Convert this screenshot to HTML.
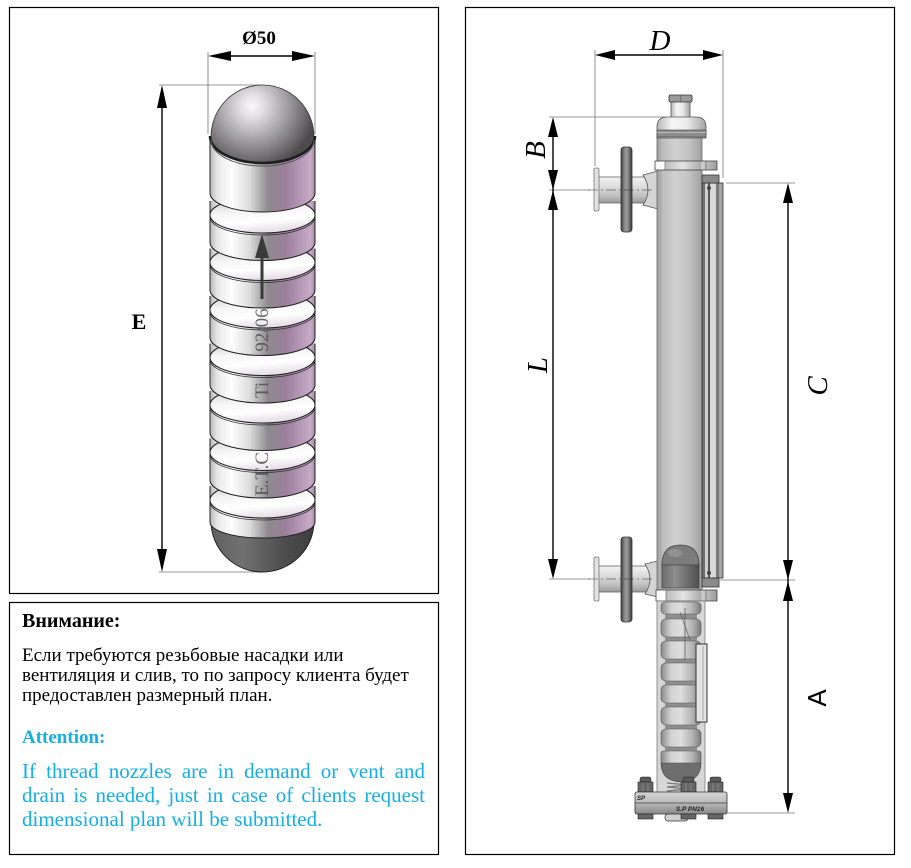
<!DOCTYPE html>
<html><head><meta charset="utf-8">
<style>
html,body{margin:0;padding:0;background:#fff;}
body{width:911px;height:868px;position:relative;overflow:hidden;font-family:"Liberation Serif","Noto Serif CJK SC",serif;}
svg{position:absolute;left:0;top:0;}
.t{position:absolute;white-space:nowrap;color:#000;}
.bl{color:#14aee8;}
</style></head><body>
<svg width="911" height="868" viewBox="0 0 911 868" xmlns="http://www.w3.org/2000/svg">
<defs>
<linearGradient id="fb" gradientUnits="userSpaceOnUse" x1="210" y1="0" x2="315" y2="0">
 <stop offset="0" stop-color="#b8b8b8"/><stop offset="0.07" stop-color="#e6e6e6"/><stop offset="0.2" stop-color="#ffffff"/>
 <stop offset="0.38" stop-color="#dcdcdc"/><stop offset="0.55" stop-color="#8e8a8e"/><stop offset="0.72" stop-color="#9b7f9c"/>
 <stop offset="0.88" stop-color="#b99bba"/><stop offset="0.96" stop-color="#c6abc6"/><stop offset="1" stop-color="#9d8a9d"/>
</linearGradient>
<linearGradient id="ff" x1="0" y1="0" x2="0.25" y2="1">
 <stop offset="0" stop-color="#c9c6c9"/><stop offset="0.45" stop-color="#f4f4f4"/><stop offset="0.75" stop-color="#ffffff"/>
 <stop offset="1" stop-color="#e9e2e9"/>
</linearGradient>
<radialGradient id="fd" gradientUnits="userSpaceOnUse" cx="252" cy="106" r="64">
 <stop offset="0" stop-color="#fafafa"/><stop offset="0.18" stop-color="#e2e0e2"/><stop offset="0.55" stop-color="#a19ea1"/>
 <stop offset="0.85" stop-color="#6b676b"/><stop offset="1" stop-color="#4d494d"/>
</radialGradient>
<linearGradient id="fbot" gradientUnits="userSpaceOnUse" x1="211" y1="0" x2="314" y2="0">
 <stop offset="0" stop-color="#606060"/><stop offset="0.3" stop-color="#717171"/><stop offset="0.7" stop-color="#4e4e4e"/><stop offset="1" stop-color="#3e3e3e"/>
</linearGradient>
<linearGradient id="tube" x1="0" y1="0" x2="1" y2="0">
 <stop offset="0" stop-color="#9c9c9c"/><stop offset="0.12" stop-color="#bcbcbc"/><stop offset="0.4" stop-color="#d0d0d0"/>
 <stop offset="0.7" stop-color="#c4c4c4"/><stop offset="1" stop-color="#a0a0a0"/>
</linearGradient>
<linearGradient id="pipe" x1="0" y1="0" x2="0" y2="1">
 <stop offset="0" stop-color="#f2f2f2"/><stop offset="0.35" stop-color="#dedede"/><stop offset="0.75" stop-color="#bdbdbd"/><stop offset="1" stop-color="#999"/>
</linearGradient>
<linearGradient id="disc" x1="0" y1="0" x2="1" y2="0">
 <stop offset="0" stop-color="#3e3e3e"/><stop offset="0.35" stop-color="#8e8e8e"/><stop offset="0.55" stop-color="#9a9a9a"/><stop offset="1" stop-color="#3a3a3a"/>
</linearGradient>
<linearGradient id="cap" x1="0" y1="0" x2="1" y2="0">
 <stop offset="0" stop-color="#b5b5b5"/><stop offset="0.3" stop-color="#f5f5f5"/><stop offset="0.6" stop-color="#ececec"/><stop offset="1" stop-color="#a5a5a5"/>
</linearGradient>
<linearGradient id="collar" x1="0" y1="0" x2="1" y2="0">
 <stop offset="0" stop-color="#f8f8f8"/><stop offset="0.16" stop-color="#ffffff"/><stop offset="0.17" stop-color="#bdbdbd"/>
 <stop offset="0.45" stop-color="#e4e4e4"/><stop offset="0.74" stop-color="#ababab"/><stop offset="0.75" stop-color="#cfcfcf"/><stop offset="1" stop-color="#9a9a9a"/>
</linearGradient>
<linearGradient id="rib" x1="0" y1="0" x2="1" y2="0">
 <stop offset="0" stop-color="#8a8a8a"/><stop offset="0.25" stop-color="#d2d2d2"/><stop offset="0.5" stop-color="#dedede"/>
 <stop offset="0.8" stop-color="#b0b0b0"/><stop offset="1" stop-color="#7a7a7a"/>
</linearGradient>
<linearGradient id="dkd" x1="0" y1="0" x2="1" y2="0">
 <stop offset="0" stop-color="#6c6c6c"/><stop offset="0.35" stop-color="#8e8e8e"/><stop offset="1" stop-color="#4f4f4f"/>
</linearGradient>
<linearGradient id="flg" x1="0" y1="0" x2="0" y2="1">
 <stop offset="0" stop-color="#d5d5d5"/><stop offset="0.45" stop-color="#bdbdbd"/><stop offset="1" stop-color="#8a8a8a"/>
</linearGradient>
</defs>

<!-- Frames -->
<rect x="9.5" y="7.5" width="429" height="586" fill="none" stroke="#000" stroke-width="1.2"/>
<rect x="9.5" y="602.5" width="429" height="252" fill="none" stroke="#000" stroke-width="1.2"/>
<rect x="465.5" y="7.5" width="429" height="847" fill="none" stroke="#000" stroke-width="1.2"/>

<!-- ===== LEFT: float ===== -->
<g stroke="#777" stroke-width="0.8" fill="none">
 <line x1="208" y1="52" x2="208" y2="134"/>
 <line x1="315" y1="52" x2="315" y2="134"/>
 <line x1="159" y1="85" x2="262" y2="85"/>
 <line x1="159" y1="572" x2="262" y2="572"/>
</g>
<g stroke="#000" stroke-width="1.4">
 <line x1="220" y1="56" x2="303" y2="56"/>
 <line x1="162" y1="100" x2="162" y2="557"/>
</g>
<g fill="#000">
 <polygon points="208,56 231,51 231,61"/>
 <polygon points="315,56 292,51 292,61"/>
 <polygon points="162,85 157,108 167,108"/>
 <polygon points="162,572 157,549 167,549"/>
</g>
<text x="259" y="44" text-anchor="middle" font-family="Liberation Serif, serif" font-weight="bold" font-size="19">Ø50</text>
<text x="139" y="329" text-anchor="middle" font-family="Liberation Serif, serif" font-weight="bold" font-size="22">E</text>

<!-- bottom dome -->
<path d="M211,521 A51.5,51 0 0 0 314,521 Z" fill="url(#fbot)" stroke="#222"/>

<!-- rib 6 -->
<path d="M210,486 L210,522 A52.5,16 0 0 0 315,522 L315,486 Z" fill="url(#fb)"/>
<path d="M210,486 L210,522 A52.5,16 0 0 0 315,522 L315,486" fill="none" stroke="#222"/>
<ellipse cx="262.5" cy="500" rx="52.5" ry="18" fill="url(#ff)" stroke="#222"/>
<path d="M210,502 A52.5,18 0 0 0 315,502" fill="none" stroke="#333" stroke-width="0.8"/>

<!-- rib 5 -->
<path d="M210,438.5 L210,480 A52.5,18 0 0 0 315,480 L315,438.5 Z" fill="url(#fb)"/>
<path d="M210,438.5 L210,480 A52.5,18 0 0 0 315,480 L315,438.5" fill="none" stroke="#222"/>
<ellipse cx="262.5" cy="452.5" rx="52.5" ry="18" fill="url(#ff)" stroke="#222"/>
<path d="M210,454.5 A52.5,18 0 0 0 315,454.5" fill="none" stroke="#333" stroke-width="0.8"/>

<!-- rib 4 -->
<path d="M210,391 L210,432.5 A52.5,18 0 0 0 315,432.5 L315,391 Z" fill="url(#fb)"/>
<path d="M210,391 L210,432.5 A52.5,18 0 0 0 315,432.5 L315,391" fill="none" stroke="#222"/>
<ellipse cx="262.5" cy="405" rx="52.5" ry="18" fill="url(#ff)" stroke="#222"/>
<path d="M210,407 A52.5,18 0 0 0 315,407" fill="none" stroke="#333" stroke-width="0.8"/>

<!-- rib 3 -->
<path d="M210,343.5 L210,385 A52.5,18 0 0 0 315,385 L315,343.5 Z" fill="url(#fb)"/>
<path d="M210,343.5 L210,385 A52.5,18 0 0 0 315,385 L315,343.5" fill="none" stroke="#222"/>
<ellipse cx="262.5" cy="357.5" rx="52.5" ry="18" fill="url(#ff)" stroke="#222"/>
<path d="M210,359.5 A52.5,18 0 0 0 315,359.5" fill="none" stroke="#333" stroke-width="0.8"/>

<!-- rib 2 -->
<path d="M210,296 L210,337.5 A52.5,18 0 0 0 315,337.5 L315,296 Z" fill="url(#fb)"/>
<path d="M210,296 L210,337.5 A52.5,18 0 0 0 315,337.5 L315,296" fill="none" stroke="#222"/>
<ellipse cx="262.5" cy="310" rx="52.5" ry="18" fill="url(#ff)" stroke="#222"/>
<path d="M210,312 A52.5,18 0 0 0 315,312" fill="none" stroke="#333" stroke-width="0.8"/>

<!-- rib 1 -->
<path d="M210,248.5 L210,290 A52.5,18 0 0 0 315,290 L315,248.5 Z" fill="url(#fb)"/>
<path d="M210,248.5 L210,290 A52.5,18 0 0 0 315,290 L315,248.5" fill="none" stroke="#222"/>
<ellipse cx="262.5" cy="262.5" rx="52.5" ry="18" fill="url(#ff)" stroke="#222"/>
<path d="M210,264.5 A52.5,18 0 0 0 315,264.5" fill="none" stroke="#333" stroke-width="0.8"/>

<!-- rib 0 -->
<path d="M210,201 L210,242.5 A52.5,18 0 0 0 315,242.5 L315,201 Z" fill="url(#fb)"/>
<path d="M210,201 L210,242.5 A52.5,18 0 0 0 315,242.5 L315,201" fill="none" stroke="#222"/>
<ellipse cx="262.5" cy="215" rx="52.5" ry="18" fill="url(#ff)" stroke="#222"/>
<path d="M210,217 A52.5,18 0 0 0 315,217" fill="none" stroke="#333" stroke-width="0.8"/>

<!-- top cylinder -->
<path d="M210,137 L210,193 A52.5,19 0 0 0 315,193 L315,137 Z" fill="url(#fb)" stroke="#222"/>

<!-- top dome -->
<path d="M211,137 A51.5,52 0 0 1 314,137 A51.5,26 0 0 1 211,137 Z" fill="url(#fd)" stroke="#333" stroke-width="0.8"/>
<path d="M210,136 A52.5,27 0 0 0 315,136" fill="none" stroke="#1e1e1e" stroke-width="2.6"/>
<path d="M211,140 A51.5,26 0 0 0 314,140" fill="none" stroke="#555" stroke-width="1"/>

<!-- float markings -->
<g fill="#4d4d4d" fill-opacity="0.85" font-family="Liberation Serif, serif" font-size="19">
 <text transform="translate(268,330) rotate(-90)" text-anchor="middle">92/06</text>
 <text transform="translate(268,390) rotate(-90)" text-anchor="middle">Ti</text>
 <text transform="translate(268,474) rotate(-90)" text-anchor="middle">E.T.C</text>
</g>
<line x1="262" y1="255" x2="262" y2="299" stroke="#3a3a3a" stroke-width="3"/>
<polygon points="262,234 255,258 269,258" fill="#3a3a3a"/>

<!-- ===== RIGHT: gauge ===== -->
<g stroke="#777" stroke-width="0.8" fill="none">
 <line x1="595" y1="50" x2="595" y2="166"/>
 <line x1="723" y1="50" x2="723" y2="178"/>
 <line x1="549" y1="117" x2="666" y2="117"/>
 <line x1="549" y1="190" x2="590" y2="190"/>
 <line x1="549" y1="579" x2="590" y2="579"/>
 <line x1="726" y1="183" x2="795" y2="183"/>
 <line x1="720" y1="580" x2="795" y2="580"/>
 <line x1="727" y1="813" x2="795" y2="813"/>
</g>
<g stroke="#000" stroke-width="1.4">
 <line x1="605" y1="55" x2="713" y2="55"/>
 <line x1="553" y1="127" x2="553" y2="569"/>
 <line x1="788" y1="193" x2="788" y2="803"/>
</g>
<g fill="#000">
 <polygon points="595,55 615,50 615,60"/>
 <polygon points="723,55 703,50 703,60"/>
 <polygon points="553,117 548,137 558,137"/>
 <polygon points="553,190 548,170 558,170"/>
 <polygon points="553,190 548,210 558,210"/>
 <polygon points="553,579 548,559 558,559"/>
 <polygon points="788,183 783,203 793,203"/>
 <polygon points="788,580 783,560 793,560"/>
 <polygon points="788,581 783,601 793,601"/>
 <polygon points="788,813 783,793 793,793"/>
</g>
<g font-family="Liberation Serif, serif" font-style="italic" font-size="29" fill="#000">
 <text x="660" y="50" text-anchor="middle">D</text>
 <text transform="translate(545,150) rotate(-90)" text-anchor="middle">B</text>
 <text transform="translate(547,365) rotate(-90)" text-anchor="middle">L</text>
 <text transform="translate(827,386) rotate(-90)" text-anchor="middle">C</text>
</g>
<text transform="translate(826,698) rotate(-90)" text-anchor="middle" font-family="Liberation Sans, sans-serif" font-size="26" fill="#000">A</text>

<!-- upper nozzle -->
<rect x="598" y="177" width="50" height="26" fill="url(#pipe)" stroke="#666" stroke-width="0.8"/>
<path d="M643,175 L658,171 L658,209 L643,205 Q653,190 643,175 Z" fill="#d4d4d4" stroke="#555" stroke-width="0.8"/>
<rect x="594" y="168" width="5" height="43" rx="1.5" fill="#e2e2e2" stroke="#777" stroke-width="0.8"/>
<rect x="621" y="147" width="11" height="85" rx="3" fill="url(#disc)" stroke="#333" stroke-width="0.8"/>
<line x1="588" y1="190" x2="652" y2="190" stroke="#333" stroke-width="0.6" stroke-dasharray="10 3 2 3"/>

<!-- lower nozzle -->
<rect x="598" y="566" width="52" height="26" fill="url(#pipe)" stroke="#666" stroke-width="0.8"/>
<path d="M645,564 L662,560 L662,598 L645,594 Q655,579 645,564 Z" fill="#d4d4d4" stroke="#555" stroke-width="0.8"/>
<rect x="594" y="557" width="5" height="44" rx="1.5" fill="#e2e2e2" stroke="#777" stroke-width="0.8"/>
<rect x="621" y="537" width="11" height="85" rx="3" fill="url(#disc)" stroke="#333" stroke-width="0.8"/>
<line x1="588" y1="579" x2="652" y2="579" stroke="#333" stroke-width="0.6" stroke-dasharray="10 3 2 3"/>

<!-- main tube -->
<rect x="657" y="137" width="45" height="453" fill="url(#tube)" stroke="#6a6a6a" stroke-width="0.8"/>
<line x1="661" y1="170" x2="661" y2="588" stroke="#a8a8a8" stroke-width="0.8"/>

<!-- top cap -->
<rect x="671" y="101" width="19" height="17" fill="url(#cap)" stroke="#555" stroke-width="0.8"/>
<rect x="669" y="95" width="23" height="7" rx="1.5" fill="#9a9a9a" stroke="#333" stroke-width="0.8"/>
<line x1="680.5" y1="95" x2="680.5" y2="102" stroke="#555" stroke-width="0.6"/>
<path d="M657,138 L657,127 Q657,117 667,117 L696,117 Q706,117 706,127 L706,138 Z" fill="url(#cap)" stroke="#555" stroke-width="0.8"/>
<rect x="657" y="130" width="49" height="7" fill="#8c8c8c" stroke="#444" stroke-width="0.6"/>
<line x1="657" y1="132.5" x2="706" y2="132.5" stroke="#c8c8c8" stroke-width="0.8"/>

<!-- upper collar -->
<rect x="655" y="161" width="62" height="9" fill="url(#collar)" stroke="#444" stroke-width="0.8"/>
<line x1="665" y1="161" x2="665" y2="170" stroke="#555" stroke-width="0.6"/>
<line x1="706" y1="161" x2="706" y2="170" stroke="#555" stroke-width="0.6"/>

<!-- gauge rails -->
<rect x="702" y="183" width="3" height="395" fill="#6e6e6e"/>
<rect x="705" y="183" width="3" height="395" fill="#cfcfcf"/>
<rect x="708" y="183" width="2" height="395" fill="#555"/>
<rect x="710" y="183" width="6" height="395" fill="#d8d8d8"/>
<rect x="716" y="183" width="3" height="395" fill="#777"/>
<rect x="719" y="183" width="4" height="395" fill="#a5a5a5"/>
<rect x="702" y="183" width="21" height="395" fill="none" stroke="#333" stroke-width="0.8"/>
<rect x="702" y="175" width="17" height="8" fill="#8a8a8a" stroke="#333" stroke-width="0.8"/>
<circle cx="709" cy="188" r="2" fill="#444"/>
<rect x="702" y="578" width="17" height="9" fill="#8a8a8a" stroke="#333" stroke-width="0.8"/>
<circle cx="709" cy="573" r="2" fill="#444"/>

<!-- float in upper chamber -->
<rect x="662" y="563" width="37" height="25" fill="url(#dkd)" stroke="#444" stroke-width="0.8"/>
<path d="M662,565 C662,550 670,545 680.5,545 C691,545 699,550 699,565 Z" fill="#7c7c7c" stroke="#444" stroke-width="0.8"/>
<ellipse cx="675" cy="553" rx="7" ry="4" fill="#9a9a9a" opacity="0.7"/>

<!-- lower collar -->
<rect x="656" y="590" width="61" height="11" fill="url(#collar)" stroke="#444" stroke-width="0.8"/>
<line x1="666" y1="590" x2="666" y2="601" stroke="#555" stroke-width="0.6"/>
<line x1="706" y1="590" x2="706" y2="601" stroke="#555" stroke-width="0.6"/>

<!-- lower chamber -->
<rect x="657" y="601" width="48" height="192" fill="#d6d6d6" stroke="#7a7a7a" stroke-width="0.8"/>
<rect x="665" y="602" width="32" height="162" fill="#8f8f8f"/>
<g fill="url(#rib)" stroke="#555" stroke-width="0.6">
 <rect x="661" y="602" width="40" height="12" rx="4"/>
 <rect x="661" y="619" width="40" height="18" rx="5"/>
 <rect x="661" y="641" width="40" height="18" rx="5"/>
 <rect x="661" y="663" width="40" height="18" rx="5"/>
 <rect x="661" y="685" width="40" height="18" rx="5"/>
 <rect x="661" y="707" width="40" height="18" rx="5"/>
 <rect x="661" y="729" width="40" height="18" rx="5"/>
 <rect x="661" y="751" width="40" height="13" rx="2"/>
</g>
<path d="M661,763 L701,763 Q701,781 681,782 Q661,781 661,763 Z" fill="#6e6e6e" stroke="#444" stroke-width="0.6"/>
<polyline points="667,783 688,785 667,787 688,789 667,791" fill="none" stroke="#777" stroke-width="1.2"/>
<line x1="685" y1="608" x2="685" y2="660" stroke="#555" stroke-width="0.7"/>
<line x1="680" y1="612" x2="690" y2="640" stroke="#555" stroke-width="0.6"/>
<rect x="696" y="644" width="11" height="78" fill="#e4e4e4" stroke="#333" stroke-width="1"/>
<line x1="703" y1="646" x2="703" y2="720" stroke="#999" stroke-width="0.8"/>

<!-- bottom flange and bolts -->
<g>
 <rect x="640" y="777" width="11" height="6" rx="2" fill="#5a5a5a" stroke="#222" stroke-width="0.5"/>
 <rect x="638" y="782" width="15" height="10" fill="#666" stroke="#222" stroke-width="0.6"/>
 <rect x="683" y="777" width="11" height="6" rx="2" fill="#5a5a5a" stroke="#222" stroke-width="0.5"/>
 <rect x="681" y="782" width="15" height="10" fill="#666" stroke="#222" stroke-width="0.6"/>
 <rect x="710" y="777" width="11" height="6" rx="2" fill="#5a5a5a" stroke="#222" stroke-width="0.5"/>
 <rect x="708" y="782" width="15" height="10" fill="#666" stroke="#222" stroke-width="0.6"/>
 <g stroke="#999" stroke-width="0.6">
  <line x1="643" y1="783" x2="643" y2="791"/><line x1="648" y1="783" x2="648" y2="791"/>
  <line x1="686" y1="783" x2="686" y2="791"/><line x1="691" y1="783" x2="691" y2="791"/>
  <line x1="713" y1="783" x2="713" y2="791"/><line x1="718" y1="783" x2="718" y2="791"/>
 </g>
</g>
<rect x="635" y="792" width="92" height="22" rx="2" fill="url(#flg)" stroke="#333" stroke-width="0.8"/>
<line x1="635" y1="803" x2="727" y2="803" stroke="#444" stroke-width="0.7"/>
<text x="690" y="811" text-anchor="middle" font-family="Liberation Sans, sans-serif" font-size="6.5" font-style="italic" font-weight="bold" fill="#222">S.P PN16</text>
<text x="637" y="800" font-family="Liberation Sans, sans-serif" font-size="6" font-style="italic" font-weight="bold" fill="#222">SP</text>
<rect x="638" y="814" width="15" height="5" fill="#666" stroke="#222" stroke-width="0.6"/>
<rect x="665" y="814" width="23" height="7" rx="3" fill="#cfcfcf" stroke="#333" stroke-width="0.7"/>
<rect x="681" y="814" width="15" height="5" fill="#666" stroke="#222" stroke-width="0.6"/>
<rect x="708" y="814" width="15" height="5" fill="#666" stroke="#222" stroke-width="0.6"/>
</svg>

<div class="t" style="left:22px;top:611px;font-size:20px;font-weight:bold;line-height:20px;">Внимание:</div>
<div class="t" style="left:22px;top:646px;font-size:19px;line-height:20px;">Если требуются резьбовые насадки или<br>вентиляция и слив, то по запросу клиента будет<br>предоставлен размерный план.</div>
<div class="t bl" style="left:22px;top:728px;font-size:19px;font-weight:bold;line-height:20px;">Attention:</div>
<div class="bl" style="position:absolute;left:22px;top:759px;width:403px;font-size:21px;line-height:24px;">
 <div style="text-align:justify;text-align-last:justify;">If thread nozzles are in demand or vent and</div>
 <div style="text-align:justify;text-align-last:justify;">drain is needed, just in case of clients request</div>
 <div style="text-align:left;white-space:nowrap;">dimensional plan will be submitted.</div>
</div>
</body></html>
